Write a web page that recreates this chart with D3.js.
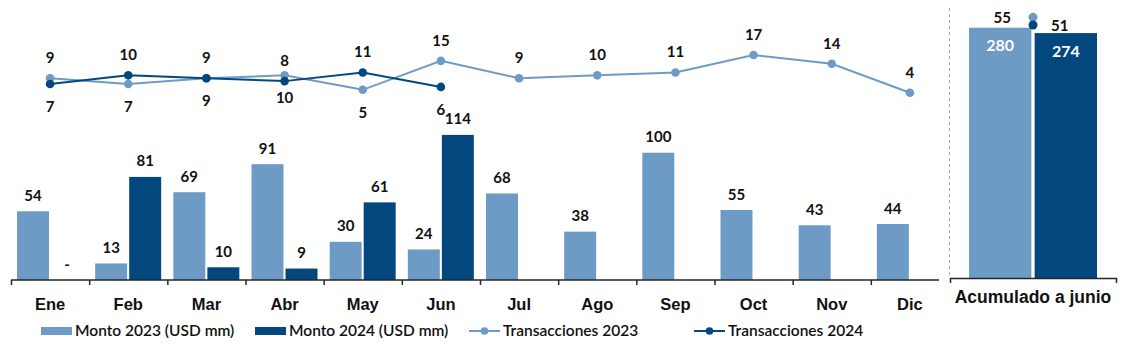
<!DOCTYPE html>
<html>
<head>
<meta charset="utf-8">
<script src="https://cdn.jsdelivr.net/npm/d3@7"></script>
<style>
  body { margin: 0; background: #fff; }
  svg  { font-family: Lato, "Open Sans", sans-serif; }
</style>
</head>
<body>
<svg id="chart" width="1125" height="350"></svg>
<script>
// ── data ──────────────────────────────────────────────────────────────────────
const months     = ["Ene", "Feb", "Mar", "Abr", "May", "Jun", "Jul", "Ago", "Sep", "Oct", "Nov", "Dic"];
const monto2023  = [54, 13, 69, 91, 30, 24, 68, 38, 100, 55, 43, 44];
const monto2024  = [0, 81, 10, 9, 61, 114, null, null, null, null, null, null];
const trans2023  = [9, 7, 9, 10, 5, 15, 9, 10, 11, 17, 14, 4];
const trans2024  = [7, 10, 9, 8, 11, 6, null, null, null, null, null, null];
const cumCategory = "Acumulado a junio";
const cumMonto    = [280, 274];
const cumTrans    = [55, 51];
const years       = ["2023", "2024"];
const seriesNames = ["Monto 2023 (USD mm)", "Monto 2024 (USD mm)", "Transacciones 2023", "Transacciones 2024"];

// label side for the transaction points (as placed in the original)
const above2023 = [true, false, true, false, false, true, true, true, true, true, true, true];
const above2024 = [false, true, false, true, true, false];

// ── styles ────────────────────────────────────────────────────────────────────
const LIGHT = "#6E9BC6";
const DARK  = "#03477F";
const INK   = "#111111";
const AXIS  = "#262626";
const legendX = [41, 255, 469, 694];

const svg = d3.select("#chart");

// ── scales ────────────────────────────────────────────────────────────────────
const x     = d3.scaleBand().domain(months).range([11, 949]);
const xEdge = d3.scaleLinear().domain([0, months.length]).range(x.range());
const xIn   = d3.scaleBand().domain(years).range([6, 72]).paddingInner(0.06);
const yBar  = d3.scaleLinear().domain([0, 220]).range([280, 0]);
const yLine = d3.scaleLinear().domain([0, 36]).range([104.3, 0]);

const xPanel = d3.scaleBand().domain([cumCategory]).range([950, 1116]);
const xCum   = d3.scaleBand().domain(years).range([969, 1097]).paddingInner(0.05);
const yCum   = d3.scaleLinear().domain([0, 311]).range([278, 0]);
const yCumTx = d3.scaleLinear().domain([0, 64]).range([123.2, 0]);

// ── bars ──────────────────────────────────────────────────────────────────────
const barRows = months.flatMap((m, i) => [
  { m, year: "2023", v: monto2023[i], color: LIGHT },
  { m, year: "2024", v: monto2024[i], color: DARK }
]).filter(d => d.v !== null);

const bars = svg.append("g").attr("class", "bars");
bars.selectAll("rect").data(barRows.filter(d => d.v > 0)).join("rect")
  .attr("x", d => x(d.m) + xIn(d.year)).attr("width", xIn.bandwidth())
  .attr("y", d => yBar(d.v)).attr("height", d => yBar(0) - yBar(d.v))
  .attr("fill", d => d.color);

bars.selectAll("text").data(barRows).join("text")
  .attr("x", d => x(d.m) + xIn(d.year) + xIn.bandwidth() / 2)
  .attr("y", d => yBar(d.v) - 10.5)
  .attr("text-anchor", "middle").attr("font-size", 15).attr("font-weight", 700).attr("fill", INK)
  .text(d => d.v === 0 ? "-" : d.v);

// ── main axis ─────────────────────────────────────────────────────────────────
const axisG = svg.append("g").attr("transform", "translate(0,280)");
axisG.append("g")
  .call(d3.axisBottom(xEdge).tickValues(d3.range(months.length)).tickSize(5).tickFormat(""))
  .call(g => g.select(".domain").remove())
  .call(g => g.selectAll(".tick line").attr("stroke", AXIS).attr("stroke-width", 1.5));
axisG.append("line")
  .attr("x1", x.range()[0]).attr("x2", x.range()[1] - 10)
  .attr("stroke", AXIS).attr("stroke-width", 1.5);
axisG.append("g")
  .call(d3.axisBottom(x).tickSize(0).tickPadding(18))
  .call(g => g.select(".domain").remove())
  .call(g => g.selectAll("text").attr("font-size", 16.5).attr("font-weight", 700).attr("fill", INK).attr("font-family", null));

// ── transaction lines ─────────────────────────────────────────────────────────
const lineSeries = [
  { values: trans2023, above: above2023, color: LIGHT },
  { values: trans2024, above: above2024, color: DARK }
];
const line = d3.line().defined(d => d.v !== null).x(d => x(d.m) + x.bandwidth() / 2).y(d => yLine(d.v));

lineSeries.forEach(s => {
  const pts = months.map((m, i) => ({ m, v: s.values[i], up: s.above[i] })).filter(d => d.v !== null);
  const g = svg.append("g");
  g.append("path").datum(pts).attr("d", line).attr("fill", "none").attr("stroke", s.color).attr("stroke-width", 2);
  g.selectAll("circle").data(pts).join("circle")
    .attr("cx", d => x(d.m) + x.bandwidth() / 2).attr("cy", d => yLine(d.v)).attr("r", 4.3).attr("fill", s.color);
  g.selectAll("text").data(pts).join("text")
    .attr("x", d => x(d.m) + x.bandwidth() / 2)
    .attr("y", d => yLine(d.v) + (d.up ? -15 : 28))
    .attr("text-anchor", "middle").attr("font-size", 15).attr("font-weight", 700).attr("fill", INK)
    .text(d => d.v);
});

// ── accumulated panel ─────────────────────────────────────────────────────────
svg.append("line")
  .attr("x1", 949.5).attr("x2", 949.5).attr("y1", 8).attr("y2", 276)
  .attr("stroke", "#a6a6a6").attr("stroke-width", 1).attr("stroke-dasharray", "3,3");

const cumRows = years.map((yr, i) => ({ yr, v: cumMonto[i], t: cumTrans[i], color: i ? DARK : LIGHT }));
const cum = svg.append("g");
cum.selectAll("rect").data(cumRows).join("rect")
  .attr("x", d => xCum(d.yr)).attr("width", xCum.bandwidth())
  .attr("y", d => yCum(d.v)).attr("height", d => yCum(0) - yCum(d.v))
  .attr("fill", d => d.color);
cum.selectAll("text.inside").data(cumRows).join("text").attr("class", "inside")
  .attr("x", d => xCum(d.yr) + xCum.bandwidth() / 2).attr("y", d => yCum(d.v) + 23.5)
  .attr("text-anchor", "middle").attr("font-size", 16).attr("font-weight", 700).attr("fill", "#fff")
  .text(d => d.v);

const cx = xPanel(cumCategory) + xPanel.bandwidth() / 2;
cum.selectAll("circle").data(cumRows).join("circle")
  .attr("cx", cx).attr("cy", d => yCumTx(d.t)).attr("r", 4.5).attr("fill", d => d.color);
cum.selectAll("text.tx").data(cumRows).join("text").attr("class", "tx")
  .attr("x", (d, i) => i ? cx + 18 : cx - 22).attr("y", d => yCumTx(d.t) + 5.5)
  .attr("text-anchor", (d, i) => i ? "start" : "end")
  .attr("font-size", 15).attr("font-weight", 700).attr("fill", INK)
  .text(d => d.t);

svg.append("g").attr("transform", "translate(0,278)")
  .call(d3.axisBottom(xPanel).tickSizeInner(0).tickSizeOuter(5).tickPadding(13))
  .call(g => g.select(".domain").attr("stroke", AXIS).attr("stroke-width", 1.5))
  .call(g => g.selectAll("text").attr("font-size", 17.5).attr("font-weight", 700).attr("fill", INK).attr("font-family", null));

// ── legend ────────────────────────────────────────────────────────────────────
const legend = svg.append("g").attr("transform", "translate(0,331)");
seriesNames.forEach((name, i) => {
  const color = i % 2 ? DARK : LIGHT;
  const item = legend.append("g").attr("transform", `translate(${legendX[i]},0)`);
  if (i < 2) {
    item.append("rect").attr("x", 0).attr("y", -4).attr("width", 31).attr("height", 8).attr("fill", color);
  } else {
    item.append("line").attr("x1", 0).attr("x2", 31).attr("stroke", color).attr("stroke-width", 2);
    item.append("circle").attr("cx", 15.5).attr("r", 3.8).attr("fill", color);
  }
  item.append("text").attr("x", 34).attr("y", 5).attr("font-size", 15.5).attr("font-weight", 600).attr("fill", INK).text(name);
});
</script>
</body>
</html>
